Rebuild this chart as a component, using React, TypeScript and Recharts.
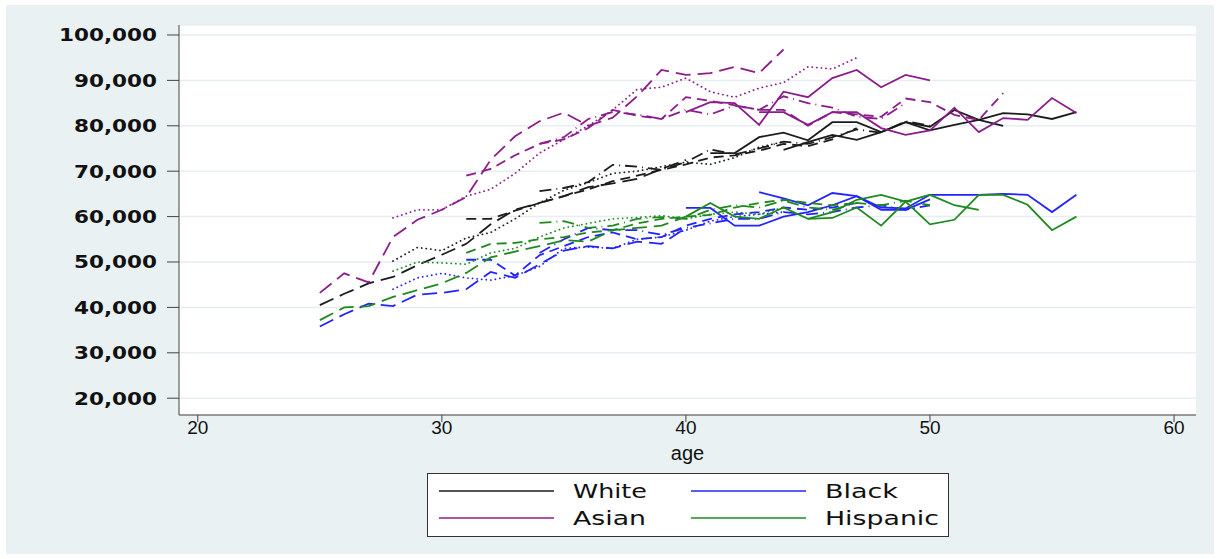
import React from 'react'
import { LineChart, Line, XAxis, YAxis, CartesianGrid } from 'recharts'

const ages = [25, 26, 27, 28, 29, 30, 31, 32, 33, 34, 35, 36, 37, 38, 39, 40, 41, 42, 43, 44, 45, 46, 47, 48, 49, 50, 51, 52, 53, 54, 55, 56]
const yTicks = [20000, 30000, 40000, 50000, 60000, 70000, 80000, 90000, 100000]
const xTicks = [20, 30, 40, 50, 60]
const races = ['White', 'Black', 'Asian', 'Hispanic']

// start age of each cohort line, per race (longdash, dot, dash, dash-dot, solid, solid)
const whiteStarts = [25, 28, 31, 34, 41, 44]
const blackStarts = [25, 28, 31, 34, 40, 43]
const asianStarts = [25, 28, 31, 34, 40, 43]
const hispanicStarts = [25, 28, 31, 34, 40, 45]

const white1 = [40500, 43000, 45300, 46700, 49300, 51600, 54000, 58300, 61500, 63000, 64500, 66500, 67300, 68300, 70500, 72500]
const white2 = [50200, 53200, 52500, 55300, 56500, 59500, 63000, 65800, 67500, 69500, 70000, 71000, 72000, 71500, 73000, 75300, 76500]
const white3 = [59500, 59500, 61300, 63000, 64500, 66000, 67800, 69000, 70300, 71500, 73000, 73500, 74500, 76000, 75500, 77000, 79500]
const white4 = [65600, 66300, 67600, 71400, 71000, 70300, 72000, 74800, 73700, 75000, 76500, 76000, 77500, 79200, 78500, 81000, 80000]
const white5 = [74000, 74000, 77500, 78500, 76800, 80800, 80800, 78600, 80800, 79800, 83500, 81300, 80000]
const white6 = [74700, 76400, 78000, 76900, 78600, 80800, 79000, 80200, 81300, 82800, 82500, 81500, 83000]

const black1 = [35800, 38500, 40800, 40300, 42800, 43200, 44000, 47800, 46500, 49500, 52500, 53500, 53000, 54500, 54000, 57500]
const black2 = [44000, 46500, 47500, 46500, 46000, 47000, 49000, 53000, 53300, 53000, 55000, 55500, 57000, 59000, 60000, 60500, 61000]
const black3 = [50500, 50500, 47000, 51500, 53500, 55500, 56500, 55000, 55500, 58000, 59500, 60500, 61000, 62000, 61500, 62000, 63000]
const black4 = [52000, 55000, 57500, 57000, 57000, 56000, 57500, 58500, 59500, 59500, 61000, 60500, 61000, 62000, 62500, 61500, 62500]
const black5 = [61900, 61900, 58000, 58000, 60000, 61000, 62500, 64500, 61500, 61500, 63800]
const black6 = [65400, 64000, 62500, 65200, 64500, 62000, 61800, 64800, 64800, 64800, 65000, 64800, 61000, 64800]

const asian1 = [43200, 47500, 45500, 55500, 59300, 61500, 64300, 72500, 77700, 81000, 82900, 80000, 81800, 86500, 92300, 91200, 91600, 93000, 91600, 96800]
const asian2 = [59700, 61500, 61500, 64500, 66000, 69500, 74000, 77000, 80000, 83500, 88000, 88500, 90500, 87500, 86300, 88300, 89500, 93000, 92500, 95000]
const asian3 = [69000, 70500, 73500, 76000, 77000, 79500, 83500, 82200, 81500, 86300, 85500, 84500, 83500, 83500, 80000, 83000, 82500, 82000, 86000, 85200, 82400, 81300, 87200]
const asian4 = [76000, 77500, 81500, 83000, 82500, 81500, 83500, 82500, 84500, 83500, 86500, 85000, 84000, 82000, 81500, 85000]
const asian5 = [83000, 85200, 85000, 80200, 87500, 86300, 90500, 92300, 88500, 91200, 90000]
const asian6 = [83000, 83000, 80200, 83000, 83000, 79500, 78000, 79000, 84000, 78600, 81700, 81300, 86100, 82800]

const hispanic1 = [37200, 40000, 40300, 42300, 43800, 45300, 47600, 51000, 52300, 53500, 54800, 54500, 57000, 57500, 58000, 60000]
const hispanic2 = [48000, 50000, 49800, 49500, 52000, 53000, 55500, 57500, 58500, 59500, 59800, 60200, 59500, 60500, 61000, 60500, 62000]
const hispanic3 = [52000, 54000, 54200, 55000, 55500, 56500, 57000, 58500, 59500, 60000, 60400, 62000, 63000, 63700, 63000, 62500, 63000]
const hispanic4 = [58600, 59000, 57500, 58000, 59500, 59900, 59500, 61500, 62500, 62000, 63500, 62000, 61500, 63000, 62500, 63500, 62500]
const hispanic5 = [60000, 63000, 60000, 59500, 62000, 59500, 61000, 63700, 64800, 63300, 64800, 62500, 61500]
const hispanic6 = [59500, 59700, 62000, 58000, 63300, 58300, 59300, 64800, 64800, 62600, 57000, 60000]

const COLORS: Record<string, string> = {
  White: '#1c1c1c',
  Black: '#2323ff',
  Asian: '#8c1c8c',
  Hispanic: '#1e8a1e',
}
const DASHES = ['15 7', '0.1 4.5', '10 6', '12 5 1 5', undefined, undefined]

const raceLines: Record<string, { starts: number[]; lines: number[][] }> = {
  White: { starts: whiteStarts, lines: [white1, white2, white3, white4, white5, white6] },
  Black: { starts: blackStarts, lines: [black1, black2, black3, black4, black5, black6] },
  Asian: { starts: asianStarts, lines: [asian1, asian2, asian3, asian4, asian5, asian6] },
  Hispanic: { starts: hispanicStarts, lines: [hispanic1, hispanic2, hispanic3, hispanic4, hispanic5, hispanic6] },
}

const series = races.flatMap((race) =>
  raceLines[race].lines.map((values, i) => ({
    key: `${race}${i}`,
    start: raceLines[race].starts[i],
    values,
    color: COLORS[race],
    dash: DASHES[i],
  }))
)

const data = ages.map((age) => {
  const row: Record<string, number | null> = { age }
  series.forEach((s) => {
    const i = age - s.start
    row[s.key] = i >= 0 && i < s.values.length ? s.values[i] : null
  })
  return row
})

const YTick = (props: any) => {
  const { x, y, payload } = props
  const label = payload.value.toLocaleString('en-US')
  return (
    <text
      x={x}
      y={y}
      dy={6.5}
      textAnchor="end"
      fontFamily="DejaVu Sans"
      fontWeight="bold"
      fontSize={18}
      fill="#111"
      textLength={label.length === 7 ? 98 : 83}
      lengthAdjust="spacingAndGlyphs"
    >
      {label}
    </text>
  )
}

const legendItems = [
  { name: 'White', x: 439, y: 491, tx: 573, w: 74 },
  { name: 'Black', x: 691, y: 491, tx: 825, w: 73 },
  { name: 'Asian', x: 439, y: 518, tx: 573, w: 73 },
  { name: 'Hispanic', x: 691, y: 518, tx: 825, w: 114 },
]

export default function App() {
  return (
    <div style={{ position: 'relative', width: 1220, height: 559, background: '#fff', overflow: 'hidden' }}>
      <style>{'body{margin:0}'}</style>
      <div style={{ position: 'absolute', left: 6, top: 5, width: 1208, height: 549, background: '#E9F1F3' }} />
      <div style={{ position: 'absolute', left: 0, top: 0 }}>
        <LineChart width={1220} height={559} data={data} margin={{ top: 25, right: 24, bottom: 114, left: 0 }}>
          <CartesianGrid vertical={false} fill="#fff" stroke="#E6EEF1" strokeWidth={1.5} />
          <XAxis
            dataKey="age"
            type="number"
            domain={[19.23, 60.9]}
            ticks={xTicks}
            allowDataOverflow
            height={30}
            tickSize={7}
            tickMargin={-1}
            stroke="#444"
            tick={{ fill: '#111', fontSize: 19, fontFamily: 'Liberation Sans' }}
            label={{ value: 'age', position: 'bottom', offset: 1, fill: '#111', fontSize: 20, fontFamily: 'Liberation Sans' }}
          />
          <YAxis
            type="number"
            domain={[16300, 102200]}
            ticks={yTicks}
            allowDataOverflow
            width={179}
            tickSize={12}
            tickMargin={10}
            stroke="#444"
            tick={<YTick />}
          />
          {series.map((s) => (
            <Line
              key={s.key}
              dataKey={s.key}
              type="linear"
              stroke={s.color}
              strokeWidth={1.8}
              strokeDasharray={s.dash}
              strokeLinecap={s.dash === '0.1 4.5' ? 'round' : 'butt'}
              dot={false}
              activeDot={false}
              connectNulls={false}
              isAnimationActive={false}
            />
          ))}
        </LineChart>
      </div>
      <svg width={1220} height={559} style={{ position: 'absolute', left: 0, top: 0, pointerEvents: 'none' }}>
        <rect x={427.5} y={473.5} width={521} height={63} fill="#fff" stroke="#333" strokeWidth={1} />
        {legendItems.map((item) => (
          <g key={item.name}>
            <line x1={item.x} x2={item.x + 115} y1={item.y} y2={item.y} stroke={COLORS[item.name]} strokeWidth={1.5} />
            <text
              x={item.tx}
              y={item.y}
              dy={6.8}
              fontFamily="DejaVu Sans"
              fontSize={19}
              fill="#111"
              textLength={item.w}
              lengthAdjust="spacingAndGlyphs"
            >
              {item.name}
            </text>
          </g>
        ))}
      </svg>
    </div>
  )
}
